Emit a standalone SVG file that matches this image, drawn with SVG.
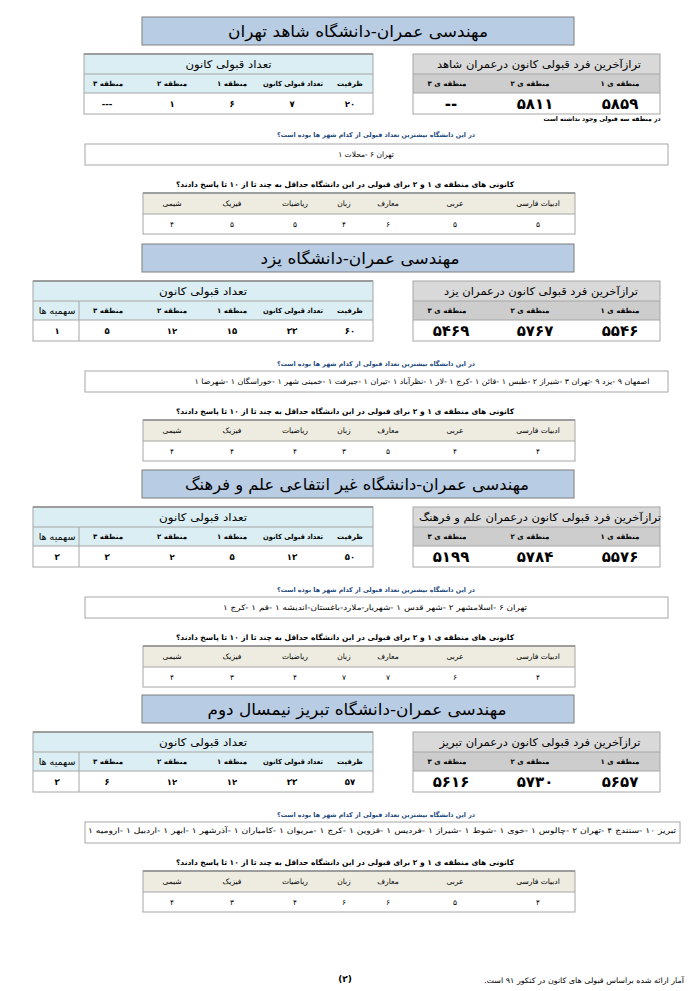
<svg xmlns="http://www.w3.org/2000/svg" width="700" height="991" viewBox="0 0 700 991">
<style>
text{font-family:"DejaVu Sans",sans-serif;direction:rtl;text-anchor:middle;dominant-baseline:central;fill:#000}
.ttl{font-size:16px}
.tb{fill:#b8cce4;stroke:#7f7f7f;stroke-width:1}
.lh{fill:#daeef3}
.rh{fill:#d9d9d9}
.rh2{fill:#cdcdcd}
.sh{fill:#eeece1}
.wh{fill:#ffffff}
.ln{stroke:#a6a6a6;stroke-width:1;fill:none}
.dk{stroke:#8c8c8c;stroke-width:1.5;fill:none}
.t9{font-size:10.5px}
.ch{font-size:7px;font-weight:bold}
.sq{font-size:9.5px}
.v{font-size:8.5px;font-weight:bold}
.big{font-size:15px;font-weight:bold}
.q1{font-size:6.5px;fill:#1f497d;font-weight:bold}
.q2{font-size:7.5px;font-weight:bold}
.city{font-size:7.5px}
.sc{font-size:7.5px}
.fn{font-size:6.5px;font-weight:bold}
.bx{fill:#ffffff;stroke:#a6a6a6;stroke-width:1}
.foot{font-size:9px}
.foot2{font-size:7.5px}
</style>

<!-- Section 1 -->
<g id="sec-shahed" transform="translate(0,17)">
  <g id="title-shahed">
    <rect class="tb" x="142" y="0" width="432" height="28"/>
    <text class="ttl" x="358" y="14" textLength="260" lengthAdjust="spacingAndGlyphs">مهندسی عمران-دانشگاه شاهد تهران</text>
  </g>
  <g id="count-shahed">
    <rect class="lh" x="84" y="37" width="289" height="39"/>
    <rect class="wh" x="84" y="76" width="289" height="21"/>
    <rect class="ln" x="84" y="37" width="289" height="60"/>
    <line class="dk" x1="84" y1="37" x2="373" y2="37"/>
    <line class="ln" x1="84" y1="57" x2="373" y2="57"/>
    <line class="ln" x1="84" y1="76" x2="373" y2="76"/>
    <text class="t9" x="228.5" y="47" textLength="86" lengthAdjust="spacingAndGlyphs">تعداد قبولی کانون</text>
    <text class="ch" x="350" y="66.5">ظرفیت</text>
    <text class="ch" x="293" y="66.5" textLength="60" lengthAdjust="spacingAndGlyphs">تعداد قبولی کانون</text>
    <text class="ch" x="232" y="66.5">منطقه ۱</text>
    <text class="ch" x="172" y="66.5">منطقه ۲</text>
    <text class="ch" x="108" y="66.5">منطقه ۳</text>
    <text class="v" x="350" y="86.5">۲۰</text>
    <text class="v" x="292" y="86.5">۷</text>
    <text class="v" x="232" y="86.5">۶</text>
    <text class="v" x="172" y="86.5">۱</text>
    <text class="v" x="107" y="86.5">---</text>
  </g>
  <g id="rank-shahed">
    <rect class="rh" x="413" y="37" width="247" height="20"/>
    <rect class="rh2" x="413" y="57" width="247" height="19"/>
    <rect class="wh" x="413" y="76" width="247" height="21"/>
    <rect class="ln" x="413" y="37" width="247" height="60"/>
    <line class="ln" x1="413" y1="57" x2="660" y2="57"/>
    <line class="ln" x1="413" y1="76" x2="660" y2="76"/>
    <text class="t9" x="539" y="47" textLength="204" lengthAdjust="spacingAndGlyphs">ترازآخرین فرد قبولی کانون درعمران شاهد</text>
    <text class="ch" x="620" y="66.5">منطقه ی ۱</text>
    <text class="ch" x="530" y="66.5">منطقه ی ۲</text>
    <text class="ch" x="447" y="66.5">منطقه ی ۳</text>
    <text class="big" x="620" y="87">۵۸۵۹</text>
    <text class="big" x="535" y="87">۵۸۱۱</text>
    <text class="big" x="451" y="87">--</text>
  </g>
  <text class="fn" x="602" y="102" textLength="117" lengthAdjust="spacingAndGlyphs">در منطقه سه قبولی وجود نداشته است</text>
  <g id="cities-shahed">
    <text class="q1" x="376" y="118" textLength="198" lengthAdjust="spacingAndGlyphs">در این دانشگاه بیشترین تعداد قبولی از کدام شهر ها بوده است؟</text>
    <rect class="bx" x="85" y="127" width="583" height="21"/>
    <text class="city" x="366" y="137.5">تهران ۶ -محلات ۱</text>
  </g>
  <g id="scores-shahed">
    <text class="q2" x="345" y="167" textLength="338" lengthAdjust="spacingAndGlyphs">کانونی های منطقه ی ۱ و ۲ برای قبولی در این دانشگاه حداقل به چند تا از ۱۰ تا پاسخ دادند؟</text>
    <rect class="sh" x="143" y="176" width="432" height="21"/>
    <rect class="wh" x="143" y="197" width="432" height="20"/>
    <rect class="ln" x="143" y="176" width="432" height="41"/>
    <line class="dk" x1="143" y1="176" x2="575" y2="176"/>
    <line class="ln" x1="143" y1="197" x2="575" y2="197"/>
    <text class="sc" x="538" y="186.5">ادبیات فارسی</text>
    <text class="sc" x="455" y="186.5">عربی</text>
    <text class="sc" x="388" y="186.5">معارف</text>
    <text class="sc" x="344" y="186.5">زبان</text>
    <text class="sc" x="295" y="186.5">ریاضیات</text>
    <text class="sc" x="232" y="186.5">فیزیک</text>
    <text class="sc" x="172" y="186.5">شیمی</text>
    <text class="sc" x="538" y="207">۵</text>
    <text class="sc" x="455" y="207">۵</text>
    <text class="sc" x="388" y="207">۶</text>
    <text class="sc" x="344" y="207">۴</text>
    <text class="sc" x="295" y="207">۵</text>
    <text class="sc" x="232" y="207">۵</text>
    <text class="sc" x="172" y="207">۴</text>
  </g>
</g>

<!-- Section 2 -->
<g id="sec-yazd" transform="translate(0,244)">
  <g id="title-yazd">
    <rect class="tb" x="142" y="0" width="432" height="28"/>
    <text class="ttl" x="360" y="14" textLength="199" lengthAdjust="spacingAndGlyphs">مهندسی عمران-دانشگاه یزد</text>
  </g>
  <g id="count-yazd">
    <rect class="lh" x="33" y="37" width="340" height="39"/>
    <rect class="wh" x="33" y="76" width="340" height="21"/>
    <rect class="ln" x="33" y="37" width="340" height="60"/>
    <line class="dk" x1="33" y1="37" x2="373" y2="37"/>
    <line class="ln" x1="33" y1="57" x2="373" y2="57"/>
    <line class="ln" x1="33" y1="76" x2="373" y2="76"/>
    <line class="ln" x1="79" y1="57" x2="79" y2="97"/>
    <text class="t9" x="203" y="47" textLength="88" lengthAdjust="spacingAndGlyphs">تعداد قبولی کانون</text>
    <text class="ch" x="350" y="66.5">ظرفیت</text>
    <text class="ch" x="293" y="66.5" textLength="60" lengthAdjust="spacingAndGlyphs">تعداد قبولی کانون</text>
    <text class="ch" x="232" y="66.5">منطقه ۱</text>
    <text class="ch" x="172" y="66.5">منطقه ۲</text>
    <text class="ch" x="108" y="66.5">منطقه ۳</text>
    <text class="sq" x="57" y="66.5">سهمیه ها</text>
    <text class="v" x="350" y="86.5">۶۰</text>
    <text class="v" x="292" y="86.5">۳۳</text>
    <text class="v" x="232" y="86.5">۱۵</text>
    <text class="v" x="172" y="86.5">۱۲</text>
    <text class="v" x="107" y="86.5">۵</text>
    <text class="v" x="57" y="86.5">۱</text>
  </g>
  <g id="rank-yazd">
    <rect class="rh" x="413" y="37" width="247" height="20"/>
    <rect class="rh2" x="413" y="57" width="247" height="19"/>
    <rect class="wh" x="413" y="76" width="247" height="21"/>
    <rect class="ln" x="413" y="37" width="247" height="60"/>
    <line class="ln" x1="413" y1="57" x2="660" y2="57"/>
    <line class="ln" x1="413" y1="76" x2="660" y2="76"/>
    <text class="t9" x="541" y="47" textLength="194" lengthAdjust="spacingAndGlyphs">ترازآخرین فرد قبولی کانون درعمران یزد</text>
    <text class="ch" x="620" y="66.5">منطقه ی ۱</text>
    <text class="ch" x="530" y="66.5">منطقه ی ۲</text>
    <text class="ch" x="447" y="66.5">منطقه ی ۳</text>
    <text class="big" x="620" y="87">۵۵۴۶</text>
    <text class="big" x="535" y="87">۵۷۶۷</text>
    <text class="big" x="451" y="87">۵۴۶۹</text>
  </g>
  <g id="cities-yazd">
    <text class="q1" x="376" y="120" textLength="198" lengthAdjust="spacingAndGlyphs">در این دانشگاه بیشترین تعداد قبولی از کدام شهر ها بوده است؟</text>
    <rect class="bx" x="85" y="127" width="583" height="21"/>
    <text class="city" x="422" y="137.5" textLength="455" lengthAdjust="spacingAndGlyphs">اصفهان ۹ -یزد ۹ -تهران ۳ -شیراز ۲ -طبس ۱ -قائن ۱ -کرج ۱ -لار ۱ -نظرآباد ۱ -تیران ۱ -جیرفت ۱ -خمینی شهر ۱ -خوراسگان ۱ -شهرضا ۱</text>
  </g>
  <g id="scores-yazd">
    <text class="q2" x="345" y="167" textLength="338" lengthAdjust="spacingAndGlyphs">کانونی های منطقه ی ۱ و ۲ برای قبولی در این دانشگاه حداقل به چند تا از ۱۰ تا پاسخ دادند؟</text>
    <rect class="sh" x="143" y="176" width="432" height="21"/>
    <rect class="wh" x="143" y="197" width="432" height="20"/>
    <rect class="ln" x="143" y="176" width="432" height="41"/>
    <line class="dk" x1="143" y1="176" x2="575" y2="176"/>
    <line class="ln" x1="143" y1="197" x2="575" y2="197"/>
    <text class="sc" x="538" y="186.5">ادبیات فارسی</text>
    <text class="sc" x="455" y="186.5">عربی</text>
    <text class="sc" x="388" y="186.5">معارف</text>
    <text class="sc" x="344" y="186.5">زبان</text>
    <text class="sc" x="295" y="186.5">ریاضیات</text>
    <text class="sc" x="232" y="186.5">فیزیک</text>
    <text class="sc" x="172" y="186.5">شیمی</text>
    <text class="sc" x="538" y="207">۴</text>
    <text class="sc" x="455" y="207">۴</text>
    <text class="sc" x="388" y="207">۵</text>
    <text class="sc" x="344" y="207">۳</text>
    <text class="sc" x="295" y="207">۴</text>
    <text class="sc" x="232" y="207">۴</text>
    <text class="sc" x="172" y="207">۴</text>
  </g>
</g>

<!-- Section 3 -->
<g id="sec-elmofarhang" transform="translate(0,470)">
  <g id="title-elmofarhang">
    <rect class="tb" x="142" y="0" width="432" height="28"/>
    <text class="ttl" x="357" y="14" textLength="344" lengthAdjust="spacingAndGlyphs">مهندسی عمران-دانشگاه غیر انتفاعی علم و فرهنگ</text>
  </g>
  <g id="count-elmofarhang">
    <rect class="lh" x="33" y="37" width="340" height="39"/>
    <rect class="wh" x="33" y="76" width="340" height="21"/>
    <rect class="ln" x="33" y="37" width="340" height="60"/>
    <line class="dk" x1="33" y1="37" x2="373" y2="37"/>
    <line class="ln" x1="33" y1="57" x2="373" y2="57"/>
    <line class="ln" x1="33" y1="76" x2="373" y2="76"/>
    <line class="ln" x1="79" y1="57" x2="79" y2="97"/>
    <text class="t9" x="203" y="47" textLength="88" lengthAdjust="spacingAndGlyphs">تعداد قبولی کانون</text>
    <text class="ch" x="350" y="66.5">ظرفیت</text>
    <text class="ch" x="293" y="66.5" textLength="60" lengthAdjust="spacingAndGlyphs">تعداد قبولی کانون</text>
    <text class="ch" x="232" y="66.5">منطقه ۱</text>
    <text class="ch" x="172" y="66.5">منطقه ۲</text>
    <text class="ch" x="108" y="66.5">منطقه ۳</text>
    <text class="sq" x="57" y="66.5">سهمیه ها</text>
    <text class="v" x="350" y="86.5">۵۰</text>
    <text class="v" x="292" y="86.5">۱۳</text>
    <text class="v" x="232" y="86.5">۵</text>
    <text class="v" x="172" y="86.5">۲</text>
    <text class="v" x="107" y="86.5">۳</text>
    <text class="v" x="57" y="86.5">۳</text>
  </g>
  <g id="rank-elmofarhang">
    <rect class="rh" x="413" y="37" width="247" height="20"/>
    <rect class="rh2" x="413" y="57" width="247" height="19"/>
    <rect class="wh" x="413" y="76" width="247" height="21"/>
    <rect class="ln" x="413" y="37" width="247" height="60"/>
    <line class="ln" x1="413" y1="57" x2="660" y2="57"/>
    <line class="ln" x1="413" y1="76" x2="660" y2="76"/>
    <text class="t9" x="540" y="47" textLength="242" lengthAdjust="spacingAndGlyphs">ترازآخرین فرد قبولی کانون درعمران علم و فرهنگ</text>
    <text class="ch" x="620" y="66.5">منطقه ی ۱</text>
    <text class="ch" x="530" y="66.5">منطقه ی ۲</text>
    <text class="ch" x="447" y="66.5">منطقه ی ۳</text>
    <text class="big" x="620" y="87">۵۵۷۶</text>
    <text class="big" x="535" y="87">۵۷۸۴</text>
    <text class="big" x="451" y="87">۵۱۹۹</text>
  </g>
  <g id="cities-elmofarhang">
    <text class="q1" x="376" y="120" textLength="198" lengthAdjust="spacingAndGlyphs">در این دانشگاه بیشترین تعداد قبولی از کدام شهر ها بوده است؟</text>
    <rect class="bx" x="85" y="127" width="583" height="21"/>
    <text class="city" x="375" y="137.5" textLength="304" lengthAdjust="spacingAndGlyphs">تهران ۶ -اسلامشهر ۲ -شهر قدس ۱ -شهریار-ملارد-باغستان-اندیشه ۱ -قم ۱ -کرج ۱</text>
  </g>
  <g id="scores-elmofarhang">
    <text class="q2" x="345" y="167" textLength="338" lengthAdjust="spacingAndGlyphs">کانونی های منطقه ی ۱ و ۲ برای قبولی در این دانشگاه حداقل به چند تا از ۱۰ تا پاسخ دادند؟</text>
    <rect class="sh" x="143" y="176" width="432" height="21"/>
    <rect class="wh" x="143" y="197" width="432" height="20"/>
    <rect class="ln" x="143" y="176" width="432" height="41"/>
    <line class="dk" x1="143" y1="176" x2="575" y2="176"/>
    <line class="ln" x1="143" y1="197" x2="575" y2="197"/>
    <text class="sc" x="538" y="186.5">ادبیات فارسی</text>
    <text class="sc" x="455" y="186.5">عربی</text>
    <text class="sc" x="388" y="186.5">معارف</text>
    <text class="sc" x="344" y="186.5">زبان</text>
    <text class="sc" x="295" y="186.5">ریاضیات</text>
    <text class="sc" x="232" y="186.5">فیزیک</text>
    <text class="sc" x="172" y="186.5">شیمی</text>
    <text class="sc" x="538" y="207">۴</text>
    <text class="sc" x="455" y="207">۶</text>
    <text class="sc" x="388" y="207">۷</text>
    <text class="sc" x="344" y="207">۷</text>
    <text class="sc" x="295" y="207">۴</text>
    <text class="sc" x="232" y="207">۳</text>
    <text class="sc" x="172" y="207">۴</text>
  </g>
</g>

<!-- Section 4 -->
<g id="sec-tabriz" transform="translate(0,695)">
  <g id="title-tabriz">
    <rect class="tb" x="142" y="0" width="432" height="28"/>
    <text class="ttl" x="357" y="14" textLength="299" lengthAdjust="spacingAndGlyphs">مهندسی عمران-دانشگاه تبریز نیمسال دوم</text>
  </g>
  <g id="count-tabriz">
    <rect class="lh" x="33" y="37" width="340" height="39"/>
    <rect class="wh" x="33" y="76" width="340" height="21"/>
    <rect class="ln" x="33" y="37" width="340" height="60"/>
    <line class="dk" x1="33" y1="37" x2="373" y2="37"/>
    <line class="ln" x1="33" y1="57" x2="373" y2="57"/>
    <line class="ln" x1="33" y1="76" x2="373" y2="76"/>
    <line class="ln" x1="79" y1="57" x2="79" y2="97"/>
    <text class="t9" x="203" y="47" textLength="88" lengthAdjust="spacingAndGlyphs">تعداد قبولی کانون</text>
    <text class="ch" x="350" y="66.5">ظرفیت</text>
    <text class="ch" x="293" y="66.5" textLength="60" lengthAdjust="spacingAndGlyphs">تعداد قبولی کانون</text>
    <text class="ch" x="232" y="66.5">منطقه ۱</text>
    <text class="ch" x="172" y="66.5">منطقه ۲</text>
    <text class="ch" x="108" y="66.5">منطقه ۳</text>
    <text class="sq" x="57" y="66.5">سهمیه ها</text>
    <text class="v" x="350" y="86.5">۵۷</text>
    <text class="v" x="292" y="86.5">۳۳</text>
    <text class="v" x="232" y="86.5">۱۲</text>
    <text class="v" x="172" y="86.5">۱۲</text>
    <text class="v" x="107" y="86.5">۶</text>
    <text class="v" x="57" y="86.5">۳</text>
  </g>
  <g id="rank-tabriz">
    <rect class="rh" x="413" y="37" width="247" height="20"/>
    <rect class="rh2" x="413" y="57" width="247" height="19"/>
    <rect class="wh" x="413" y="76" width="247" height="21"/>
    <rect class="ln" x="413" y="37" width="247" height="60"/>
    <line class="ln" x1="413" y1="57" x2="660" y2="57"/>
    <line class="ln" x1="413" y1="76" x2="660" y2="76"/>
    <text class="t9" x="540" y="47" textLength="201" lengthAdjust="spacingAndGlyphs">ترازآخرین فرد قبولی کانون درعمران تبریز</text>
    <text class="ch" x="620" y="66.5">منطقه ی ۱</text>
    <text class="ch" x="530" y="66.5">منطقه ی ۲</text>
    <text class="ch" x="447" y="66.5">منطقه ی ۳</text>
    <text class="big" x="620" y="87">۵۶۵۷</text>
    <text class="big" x="535" y="87">۵۷۳۰</text>
    <text class="big" x="451" y="87">۵۶۱۶</text>
  </g>
  <g id="cities-tabriz">
    <text class="q1" x="376" y="120" textLength="198" lengthAdjust="spacingAndGlyphs">در این دانشگاه بیشترین تعداد قبولی از کدام شهر ها بوده است؟</text>
    <rect class="bx" x="85" y="127" width="595" height="21"/>
    <text class="city" x="382" y="135" textLength="588" lengthAdjust="spacingAndGlyphs">تبریز ۱۰ -سنندج ۴ -تهران ۲ -چالوس ۱ -خوی ۱ -شوط ۱ -شیراز ۱ -فردیس ۱ -قزوین ۱ -کرج ۱ -مریوان ۱ -کامیاران ۱ -آذرشهر ۱ -ابهر ۱ -اردبیل ۱ -ارومیه ۱</text>
  </g>
  <g id="scores-tabriz">
    <text class="q2" x="345" y="167" textLength="338" lengthAdjust="spacingAndGlyphs">کانونی های منطقه ی ۱ و ۲ برای قبولی در این دانشگاه حداقل به چند تا از ۱۰ تا پاسخ دادند؟</text>
    <rect class="sh" x="143" y="176" width="432" height="21"/>
    <rect class="wh" x="143" y="197" width="432" height="20"/>
    <rect class="ln" x="143" y="176" width="432" height="41"/>
    <line class="dk" x1="143" y1="176" x2="575" y2="176"/>
    <line class="ln" x1="143" y1="197" x2="575" y2="197"/>
    <text class="sc" x="538" y="186.5">ادبیات فارسی</text>
    <text class="sc" x="455" y="186.5">عربی</text>
    <text class="sc" x="388" y="186.5">معارف</text>
    <text class="sc" x="344" y="186.5">زبان</text>
    <text class="sc" x="295" y="186.5">ریاضیات</text>
    <text class="sc" x="232" y="186.5">فیزیک</text>
    <text class="sc" x="172" y="186.5">شیمی</text>
    <text class="sc" x="538" y="207">۴</text>
    <text class="sc" x="455" y="207">۵</text>
    <text class="sc" x="388" y="207">۶</text>
    <text class="sc" x="344" y="207">۶</text>
    <text class="sc" x="295" y="207">۴</text>
    <text class="sc" x="232" y="207">۳</text>
    <text class="sc" x="172" y="207">۴</text>
  </g>
</g>

<g id="connectors"></g>

<g id="footer">
  <text class="foot" x="345" y="979" style="font-weight:bold">(۲)</text>
  <text class="foot2" x="584" y="980" textLength="200" lengthAdjust="spacingAndGlyphs">آمار ارائه شده براساس قبولی های کانون در کنکور ۹۱ است.</text>
</g>
</svg>
